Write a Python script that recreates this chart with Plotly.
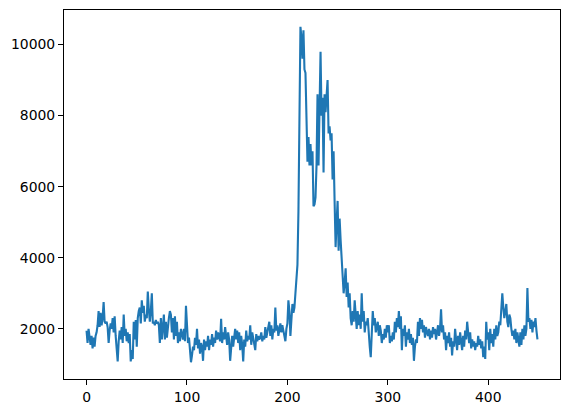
import plotly.graph_objects as go

# values, index 0..449
seg_000 = [1950, 1600, 2000, 1700, 1550, 1800, 1450, 1750, 1500, 1800,
           1900, 2100, 2500, 2050, 2450, 2100, 2300, 2750, 2200, 2150,
           2200, 2050, 1600, 1950, 2150, 2000, 2300, 1900, 2350, 1800,
           1500, 1080, 1650, 1950, 1700, 2050, 1600, 2400, 1800, 2000,
           1650, 1900, 1600, 1850, 1080, 1400, 1150, 2200, 1700, 2250,
           1500, 2300, 2500, 2600, 2150, 2800, 2450, 2650, 2200, 2400]
seg_060 = [2300, 3050, 2550, 2200, 2500, 3000, 2150, 2200, 2100, 2250,
           2150, 2200, 2100, 1600, 2300, 1700, 2050, 2400, 1700, 2200,
           1750, 2100, 2300, 2500, 2400, 1900, 2300, 1700, 2350, 1800,
           2200, 1600, 1900, 1650, 2000, 1850, 1700, 2000, 1650, 2650,
           1900, 1600, 1750, 1400, 1060, 1250, 1500, 1400, 1750, 1550,
           2000, 1450, 1700, 1300, 1600, 1500, 1100, 1700, 1400, 1650]
seg_120 = [1500, 1800, 1400, 1700, 1550, 1850, 1500, 1750, 1600, 1950,
           1700, 1900, 1800, 1650, 2280, 1600, 1900, 1700, 2050, 1800,
           1550, 1900, 1700, 1100, 1600, 1800, 1500, 1850, 2000, 1700,
           1950, 1600, 1900, 1400, 1800, 1550, 1080, 1700, 1500, 1950,
           1650, 1800, 1700, 2100, 1550, 1900, 1750, 1600, 1400, 1850,
           1650, 1800, 1700, 1750, 1900, 1650, 1800, 1700, 2050, 1750]
seg_180 = [1900, 2000, 2200, 1800, 2100, 1700, 2000, 1900, 2600, 1950,
           2100, 1800, 2000, 2150, 1900, 2100, 1950, 1800, 1650, 2000,
           2150, 2800, 2500, 1800, 2500, 2700, 2450, 2600, 3000, 3300,
           3800, 5300, 7600, 10500, 10200, 9600, 10400, 9300, 9200, 8200,
           6700, 7400, 6600, 7200, 6600, 7000, 5450, 5500, 5700, 6600,
           8600, 6600, 8500, 9800, 8000, 8500, 6400, 8600, 8100, 8600]
seg_240 = [9000, 7500, 7700, 7300, 7500, 6200, 7000, 5600, 4300, 5000,
           5600, 4200, 5100, 4500, 4000, 3600, 3000, 3300, 3700, 2900,
           3300, 2600, 3000, 2300, 2100, 2500, 2200, 2800, 2300, 2000,
           2500, 2100, 2400, 2000, 3000, 2200, 2500, 1900, 2200, 2100,
           2300, 1800, 1500, 1200, 1900, 2500, 2100, 2300, 1900, 2050,
           2200, 1800, 2100, 1950, 1600, 1850, 1700, 2000, 1750, 2100]
seg_300 = [1900, 2100, 1600, 1800, 1650, 1900, 1700, 2200, 1900, 2300,
           2050, 2500, 2000, 2350, 1400, 2000, 1800, 2100, 1500, 1900,
           1700, 2000, 1600, 1850, 1550, 1750, 1100, 1500, 1700, 1600,
           2200, 1800, 2300, 2000, 2250, 1900, 2100, 1750, 2050, 1900,
           1800, 2000, 1700, 1950, 1750, 2050, 1850, 2000, 1700, 1900,
           2100, 1800, 2000, 2550, 1900, 2100, 1700, 1900, 1400, 1800]
seg_360 = [1600, 1900, 1500, 1750, 1250, 1650, 1500, 2000, 1700, 1400,
           1800, 1550, 1900, 1650, 1400, 1800, 1500, 1950, 1700, 2200,
           1800, 1600, 1900, 1450, 1700, 1500, 1650, 1400, 1600, 1500,
           1800, 1550, 1700, 1450, 1650, 1200, 1500, 1150, 2200, 1700,
           1900, 1400, 2000, 1600, 1850, 1500, 2000, 1700, 2100, 1800,
           1900, 2200, 2100, 2800, 3000, 2600, 2300, 2500, 2700, 2200]
seg_420 = [2050, 2400, 2300, 2000, 1800, 1950, 1700, 2000, 1600, 1900,
           1700, 1500, 1900, 1550, 2000, 1700, 2100, 1800, 2000, 3150,
           2200, 2300, 2000, 2250, 1900, 2200, 2050, 2300, 1950, 1700]

values = seg_000 + seg_060 + seg_120 + seg_180 + seg_240 + seg_300 + seg_360 + seg_420
index = list(range(len(values)))
y_ticks = [2000, 4000, 6000, 8000, 10000]

lo, hi = min(values), max(values)
pad_y = (hi - lo) * 0.05
pad_x = (len(values) - 1) * 0.05

fig = go.Figure(go.Scatter(x=index, y=values, mode="lines",
                           line=dict(color="#1f77b4", width=2.1)))

axis_style = dict(showgrid=False, zeroline=False, showline=True, mirror=True,
                  linecolor="black", linewidth=1.1, ticks="outside",
                  ticklen=5, tickwidth=1.1, tickcolor="black", automargin=False,
                  tickfont=dict(family="DejaVu Sans", size=13.9, color="black"))

fig.update_xaxes(range=[-pad_x, len(values) - 1 + pad_x], dtick=100, tick0=0, **axis_style)
fig.update_yaxes(range=[lo - pad_y, hi + pad_y], tickvals=y_ticks,
                 ticktext=[str(t) for t in y_ticks], **axis_style)
# page body adds an 8px margin, so shrink the figure to keep the plot area in place
fig.update_layout(width=562, height=405, plot_bgcolor="white", paper_bgcolor="white",
                  margin=dict(l=56, r=10, t=2, b=34), showlegend=False)
fig.write_html("out.html")
